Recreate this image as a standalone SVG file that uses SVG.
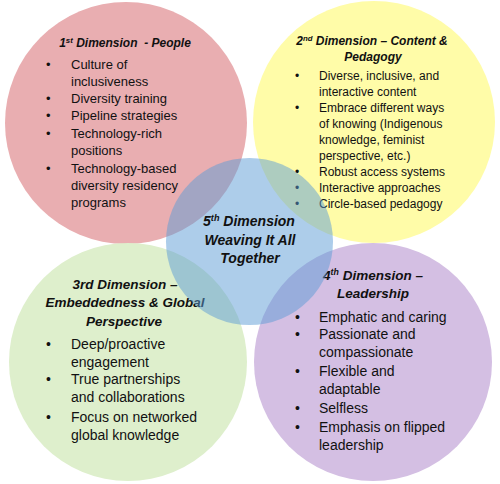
<svg xmlns="http://www.w3.org/2000/svg" width="500" height="484" viewBox="0 0 500 484">
<style>
text{font-family:"Liberation Sans",Arial,sans-serif;fill:#111;}
.t{font-weight:bold;font-style:italic;text-anchor:middle;}
.sup{font-size:65%;}
.b12{font-size:12px;}
.b13{font-size:13px;}
.b14{font-size:14px;}
</style>
<rect width="500" height="484" fill="#fff"/>
<g id="dim1">
<circle cx="126" cy="123" r="121" fill="#e9aeb1"/>
<text class="t" x="125" y="47" font-size="12" xml:space="preserve">1<tspan class="sup" baseline-shift="super">st</tspan> Dimension  - People</text>
<g class="b13">
<text x="46" y="68.5">•</text><text x="71" y="68.5">Culture of</text>
<text x="71" y="86">inclusiveness</text>
<text x="46" y="103">•</text><text x="71" y="103">Diversity training</text>
<text x="46" y="120">•</text><text x="71" y="120">Pipeline strategies</text>
<text x="46" y="137.5">•</text><text x="71" y="137.5">Technology-rich</text>
<text x="71" y="155">positions</text>
<text x="46" y="172.5">•</text><text x="71" y="172.5">Technology-based</text>
<text x="71" y="189.5">diversity residency</text>
<text x="71" y="207">programs</text>
</g>
</g>
<g id="dim2">
<circle cx="374" cy="122" r="121" fill="#fffca8"/>
<text class="t" x="372" y="45" font-size="12">2<tspan class="sup" baseline-shift="super">nd</tspan> Dimension – Content &amp;</text>
<text class="t" x="373" y="61" font-size="12">Pedagogy</text>
<g class="b12">
<text x="295" y="80">•</text><text x="319" y="80">Diverse, inclusive, and</text>
<text x="319" y="96">interactive content</text>
<text x="295" y="112">•</text><text x="319" y="112">Embrace different ways</text>
<text x="319" y="128">of knowing (Indigenous</text>
<text x="319" y="143.5">knowledge, feminist</text>
<text x="319" y="159.5">perspective, etc.)</text>
<text x="295" y="176">•</text><text x="319" y="176">Robust access systems</text>
<text x="295" y="192">•</text><text x="319" y="192">Interactive approaches</text>
<text x="295" y="207.5">•</text><text x="319" y="207.5">Circle-based pedagogy</text>
</g>
</g>
<g id="dim3">
<circle cx="128" cy="362" r="119" fill="#deefcc"/>
<text class="t" x="125" y="289" font-size="13.5">3rd Dimension –</text>
<text class="t" x="125" y="307" font-size="13.5">Embeddedness &amp; Global</text>
<text class="t" x="124" y="325.5" font-size="13.5">Perspective</text>
<g class="b14">
<text x="46" y="349">•</text><text x="71" y="349">Deep/proactive</text>
<text x="71" y="366.5">engagement</text>
<text x="46" y="384">•</text><text x="71" y="384">True partnerships</text>
<text x="71" y="401.5">and collaborations</text>
<text x="46" y="422">•</text><text x="71" y="422">Focus on networked</text>
<text x="71" y="440">global knowledge</text>
</g>
</g>
<g id="dim4">
<circle cx="373" cy="362" r="119" fill="#d4bfe3"/>
<text class="t" x="373" y="279.5" font-size="13.5">4<tspan class="sup" baseline-shift="super">th</tspan> Dimension –</text>
<text class="t" x="373" y="298" font-size="13.5">Leadership</text>
<g class="b14">
<text x="295" y="321.5">•</text><text x="319" y="321.5">Emphatic and caring</text>
<text x="295" y="339">•</text><text x="319" y="339">Passionate and</text>
<text x="319" y="357">compassionate</text>
<text x="295" y="375.5">•</text><text x="319" y="375.5">Flexible and</text>
<text x="319" y="394">adaptable</text>
<text x="295" y="413">•</text><text x="319" y="413">Selfless</text>
<text x="295" y="431.5">•</text><text x="319" y="431.5">Emphasis on flipped</text>
<text x="319" y="449.5">leadership</text>
</g>
</g>
<g id="dim5">
<circle cx="249.5" cy="241.5" r="83.5" fill="#5b9bd5" fill-opacity="0.5"/>
<text class="t" x="249" y="226" font-size="14">5<tspan class="sup" baseline-shift="super">th</tspan> Dimension</text>
<text class="t" x="250" y="244.5" font-size="14">Weaving It All</text>
<text class="t" x="250" y="263" font-size="14">Together</text>
</g>
</svg>
